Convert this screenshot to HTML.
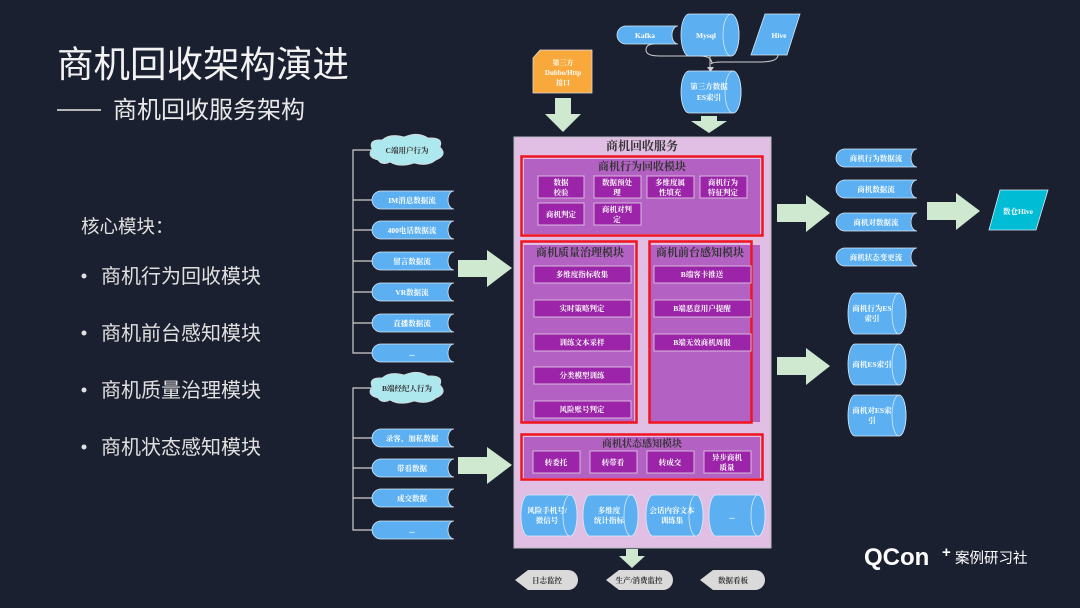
<!DOCTYPE html>
<html><head><meta charset="utf-8">
<style>
html,body{margin:0;padding:0;background:#1b2030;}
svg{display:block}
.s{font-family:"Liberation Serif","Noto Serif CJK SC",serif;font-weight:bold;}
.h{font-family:"Liberation Sans","Noto Sans CJK SC",sans-serif;}
</style></head>
<body>
<svg width="1080" height="608" viewBox="0 0 1080 608" xmlns="http://www.w3.org/2000/svg">
<rect width="1080" height="608" fill="#1b2030"/>

<!-- Titles -->
<text x="57" y="77" class="h" font-size="36.5" fill="#f2f2f2">商机回收架构演进</text>
<line x1="57" y1="110" x2="101" y2="110" stroke="#e8e8e8" stroke-width="1.5"/>
<text x="113" y="118" class="h" font-size="24" fill="#e8e8e8">商机回收服务架构</text>

<text x="81" y="233" class="h" font-size="18.5" fill="#e0e0e0">核心模块：</text>
<g class="h" font-size="20" fill="#e0e0e0">
<circle cx="84" cy="276" r="2.5"/><text x="101" y="283">商机行为回收模块</text>
<circle cx="84" cy="333" r="2.5"/><text x="101" y="340">商机前台感知模块</text>
<circle cx="84" cy="390" r="2.5"/><text x="101" y="397">商机质量治理模块</text>
<circle cx="84" cy="447" r="2.5"/><text x="101" y="454">商机状态感知模块</text>
</g>

<!-- Left tree lines -->
<g stroke="#cfcfcf" stroke-width="1.2" fill="none">
<path d="M372 150 H353 V353 H372"/>
<path d="M353 200 H372 M353 230 H372 M353 261 H372 M353 292 H372 M353 323 H372"/>
<path d="M372 388 H353 V530 H372"/>
<path d="M353 438 H372 M353 468 H372 M353 498 H372"/>
</g>
<!-- clouds -->
<g fill="#aee8ef" stroke="#d8d8d8" stroke-width="0.8">
<path d="M378 160 Q366 157 372 149 Q368 139 382 140 Q390 133 404 137 Q418 131 428 138 Q444 137 440 147 Q448 155 436 160 Q428 167 414 163 Q400 168 390 162 Q382 166 378 160Z"/>
<path d="M378 398 Q366 395 372 387 Q368 377 382 378 Q390 371 404 375 Q418 369 428 376 Q444 375 440 385 Q448 393 436 398 Q428 405 414 401 Q400 406 390 400 Q382 404 378 398Z"/>
</g>
<g class="s" font-size="7.5" fill="#333" text-anchor="middle">
<text x="407" y="153">C端用户行为</text>
<text x="407" y="391">B端经纪人行为</text>
</g>

<!-- tags left -->
<g fill="#5cb0f2" stroke="#d8e8f5" stroke-width="0.8">
<path d="M381 191 H454 A6 9 0 0 0 454 209 H381 A9 9 0 0 1 381 191Z"/>
<path d="M381 221 H454 A6 9 0 0 0 454 239 H381 A9 9 0 0 1 381 221Z"/>
<path d="M381 252 H454 A6 9 0 0 0 454 270 H381 A9 9 0 0 1 381 252Z"/>
<path d="M381 283 H454 A6 9 0 0 0 454 301 H381 A9 9 0 0 1 381 283Z"/>
<path d="M381 314 H454 A6 9 0 0 0 454 332 H381 A9 9 0 0 1 381 314Z"/>
<path d="M381 344 H454 A6 9 0 0 0 454 362 H381 A9 9 0 0 1 381 344Z"/>
<path d="M381 429 H454 A6 9 0 0 0 454 447 H381 A9 9 0 0 1 381 429Z"/>
<path d="M381 459 H454 A6 9 0 0 0 454 477 H381 A9 9 0 0 1 381 459Z"/>
<path d="M381 489 H454 A6 9 0 0 0 454 507 H381 A9 9 0 0 1 381 489Z"/>
<path d="M381 521 H454 A6 9 0 0 0 454 539 H381 A9 9 0 0 1 381 521Z"/>
</g>
<g class="s" font-size="7.5" fill="#fff" text-anchor="middle">
<text x="412" y="203">IM消息数据流</text>
<text x="412" y="233">400电话数据流</text>
<text x="412" y="264">留言数据流</text>
<text x="412" y="295">VR数据流</text>
<text x="412" y="326">直播数据流</text>
<text x="412" y="356">...</text>
<text x="412" y="441">录客、加私数据</text>
<text x="412" y="471">带看数据</text>
<text x="412" y="501">成交数据</text>
<text x="412" y="533">...</text>
</g>

<!-- big green arrows -->
<g fill="#cfe8d0">
<polygon points="458,260 487,260 487,250 512,268 487,287 487,277 458,277"/>
<polygon points="458,457 487,457 487,447 512,465 487,484 487,474 458,474"/>
<polygon points="777,204 806,204 806,195 830,213 806,232 806,222 777,222"/>
<polygon points="927,202 956,202 956,193 980,211 956,230 956,220 927,220"/>
<polygon points="777,357 806,357 806,348 830,366 806,385 806,375 777,375"/>
<polygon points="555,98 571,98 571,114 581,114 563,132 545,114 555,114"/>
<polygon points="701,116 717,116 717,121 727,121 709,133 691,121 701,121"/>
<polygon points="626,549 638,549 638,556 645,556 632,568 619,556 626,556"/>
</g>

<!-- top sources -->
<path d="M540 50 H592 V93 H533 V58Z" fill="#f9a83c" stroke="#ddd" stroke-width="0.8"/>
<g class="s" font-size="7" fill="#fff" text-anchor="middle">
<text x="563" y="65">第三方</text><text x="563" y="75">Dubbo/Http</text><text x="563" y="85">接口</text>
</g>
<path d="M654 44 Q646 44 646 50 Q646 56 660 56 L700 56 Q712 56 712 64 M778 55 Q778 62 760 62 L722 62 Q712 62 711 64 M710 56 V68" stroke="#cfcfcf" stroke-width="1" fill="none"/>
<polygon points="707,67 714,67 710.5,72" fill="#cfcfcf"/>
<path d="M626 26 H678 A6 9 0 0 0 678 44 H626 A9 9 0 0 1 626 26Z" fill="#5cb0f2" stroke="#d8e8f5" stroke-width="0.8"/>
<path d="M689 14 H731 A8 21 0 0 1 731 56 H689 A8 21 0 0 1 689 14Z" fill="#5cb0f2" stroke="#d8e8f5" stroke-width="0.8"/>
<ellipse cx="731" cy="35" rx="8" ry="21" fill="#5cb0f2" stroke="#d8e8f5" stroke-width="0.8"/>
<polygon points="765,14 800,14 787,55 751,55" fill="#5cb0f2" stroke="#d8e8f5" stroke-width="0.8"/>
<path d="M689 71 H733 A8 21 0 0 1 733 113 H689 A8 21 0 0 1 689 71Z" fill="#5cb0f2" stroke="#d8e8f5" stroke-width="0.8"/>
<ellipse cx="733" cy="92" rx="8" ry="21" fill="#5cb0f2" stroke="#d8e8f5" stroke-width="0.8"/>
<g class="s" font-size="7.5" fill="#fff" text-anchor="middle">
<text x="645" y="38">Kafka</text><text x="706" y="38">Mysql</text><text x="779" y="38">Hive</text>
<text x="709" y="89">第三方数据</text><text x="709" y="100">ES索引</text>
</g>

<!-- main box -->
<rect x="514" y="137" width="257" height="411" fill="#e1bfe5" stroke="#b9b9c4" stroke-width="1"/>
<text x="642" y="150" class="s" font-size="12" fill="#333" text-anchor="middle" font-weight="normal">商机回收服务</text>

<!-- module 1 -->
<rect x="524" y="159" width="236" height="75" fill="#b362c3"/>
<rect x="521.5" y="156.5" width="241" height="79" fill="none" stroke="#f0141e" stroke-width="2.5"/>
<text x="642" y="170" class="s" font-size="11" fill="#333" text-anchor="middle" font-weight="normal">商机行为回收模块</text>
<g fill="#9b24a8" stroke="#d8b8dd" stroke-width="1">
<rect x="538" y="176" width="46" height="22"/><rect x="594" y="176" width="47" height="22"/>
<rect x="647" y="176" width="47" height="22"/><rect x="700" y="176" width="47" height="22"/>
<rect x="538" y="203" width="46" height="22"/><rect x="594" y="203" width="47" height="22"/>
</g>
<g class="s" font-size="7.5" fill="#fff" text-anchor="middle">
<text x="561" y="185">数据</text><text x="561" y="195">校验</text>
<text x="617" y="185">数据预处</text><text x="617" y="195">理</text>
<text x="670" y="185">多维度属</text><text x="670" y="195">性填充</text>
<text x="723" y="185">商机行为</text><text x="723" y="195">特征判定</text>
<text x="561" y="217">商机判定</text>
<text x="617" y="212">商机对判</text><text x="617" y="222">定</text>
</g>

<!-- module 2 -->
<rect x="524" y="245" width="110" height="177" fill="#b362c3"/>
<rect x="521.5" y="241.5" width="115" height="181" fill="none" stroke="#f0141e" stroke-width="2.5"/>
<text x="580" y="256" class="s" font-size="11" fill="#333" text-anchor="middle" font-weight="normal">商机质量治理模块</text>
<g fill="#9b24a8" stroke="#d8b8dd" stroke-width="1">
<rect x="534" y="266" width="97" height="17"/><rect x="534" y="300" width="97" height="17"/>
<rect x="534" y="334" width="97" height="17"/><rect x="534" y="367" width="97" height="17"/>
<rect x="534" y="401" width="97" height="17"/>
</g>
<g class="s" font-size="7.5" fill="#fff" text-anchor="middle">
<text x="582" y="277">多维度指标收集</text><text x="582" y="311">实时策略判定</text>
<text x="582" y="345">训练文本采样</text><text x="582" y="378">分类模型训练</text>
<text x="582" y="412">风险账号判定</text>
</g>

<!-- module 3 -->
<rect x="650" y="245" width="110" height="177" fill="#b362c3"/>
<rect x="649.5" y="241.5" width="102" height="181" fill="none" stroke="#f0141e" stroke-width="2.5"/>
<text x="700" y="256" class="s" font-size="11" fill="#333" text-anchor="middle" font-weight="normal">商机前台感知模块</text>
<g fill="#9b24a8" stroke="#d8b8dd" stroke-width="1">
<rect x="654" y="266" width="97" height="17"/><rect x="654" y="300" width="97" height="17"/>
<rect x="654" y="334" width="97" height="17"/>
</g>
<g class="s" font-size="7.5" fill="#fff" text-anchor="middle">
<text x="702" y="277">B端客卡推送</text><text x="702" y="311">B端恶意用户提醒</text>
<text x="702" y="345">B端无效商机周报</text>
</g>

<!-- module 4 -->
<rect x="524" y="437" width="236" height="41" fill="#b362c3"/>
<rect x="521.5" y="434.5" width="241" height="45" fill="none" stroke="#f0141e" stroke-width="2.5"/>
<text x="642" y="447" class="s" font-size="10" fill="#333" text-anchor="middle" font-weight="normal">商机状态感知模块</text>
<g fill="#9b24a8" stroke="#d8b8dd" stroke-width="1">
<rect x="533" y="451" width="47" height="22"/><rect x="590" y="451" width="47" height="22"/>
<rect x="647" y="451" width="47" height="22"/><rect x="704" y="451" width="47" height="22"/>
</g>
<g class="s" font-size="7.5" fill="#fff" text-anchor="middle">
<text x="556" y="465">转委托</text><text x="613" y="465">转带看</text><text x="670" y="465">转成交</text>
<text x="727" y="460">异步商机</text><text x="727" y="470">质量</text>
</g>

<!-- cylinders row -->
<g fill="#5cb0f2" stroke="#d8e8f5" stroke-width="0.8">
<path d="M528 495 H570 A7 20.5 0 0 1 570 536 H528 A7 20.5 0 0 1 528 495Z"/><ellipse cx="570" cy="515.5" rx="7" ry="20.5"/>
<path d="M590 495 H631 A7 20.5 0 0 1 631 536 H590 A7 20.5 0 0 1 590 495Z"/><ellipse cx="631" cy="515.5" rx="7" ry="20.5"/>
<path d="M653 495 H696 A7 20.5 0 0 1 696 536 H653 A7 20.5 0 0 1 653 495Z"/><ellipse cx="696" cy="515.5" rx="7" ry="20.5"/>
<path d="M716 495 H758 A7 20.5 0 0 1 758 536 H716 A7 20.5 0 0 1 716 495Z"/><ellipse cx="758" cy="515.5" rx="7" ry="20.5"/>
</g>
<g class="s" font-size="7.5" fill="#fff" text-anchor="middle" font-weight="normal">
<text x="547" y="513">风险手机号/</text><text x="547" y="523">微信号</text>
<text x="609" y="513">多维度</text><text x="609" y="523">统计指标</text>
<text x="672" y="513">会话内容文本</text><text x="672" y="523">训练集</text>
<text x="732" y="519">...</text>
</g>

<!-- bottom gray tags -->
<g fill="#dadada">
<path d="M515 580 L528 570 H568 A10 10 0 0 1 568 590 H528Z"/>
<path d="M606 580 L619 570 H663 A10 10 0 0 1 663 590 H619Z"/>
<path d="M700 580 L713 570 H755 A10 10 0 0 1 755 590 H713Z"/>
</g>
<g class="s" font-size="7.5" fill="#333" text-anchor="middle" font-weight="normal">
<text x="547" y="583">日志监控</text><text x="639" y="583">生产/消费监控</text><text x="733" y="583">数据看板</text>
</g>

<!-- right side tags -->
<g fill="#5cb0f2" stroke="#d8e8f5" stroke-width="0.8">
<path d="M845 149 H917 A6 9 0 0 0 917 167 H845 A9 9 0 0 1 845 149Z"/>
<path d="M845 180 H917 A6 9 0 0 0 917 198 H845 A9 9 0 0 1 845 180Z"/>
<path d="M845 213 H917 A6 9 0 0 0 917 231 H845 A9 9 0 0 1 845 213Z"/>
<path d="M845 248 H917 A6 9 0 0 0 917 266 H845 A9 9 0 0 1 845 248Z"/>
</g>
<g class="s" font-size="7.5" fill="#fff" text-anchor="middle">
<text x="876" y="161">商机行为数据流</text><text x="876" y="192">商机数据流</text>
<text x="876" y="225">商机对数据流</text><text x="876" y="260">商机状态变更流</text>
</g>
<polygon points="1000,190 1048,190 1036,230 989,230" fill="#00bcd4" stroke="#d8e8f5" stroke-width="0.8"/>
<text x="1018" y="214" class="s" font-size="7.5" fill="#fff" text-anchor="middle">数仓Hive</text>

<g fill="#5cb0f2" stroke="#d8e8f5" stroke-width="0.8">
<path d="M855 293 H899 A7 20.5 0 0 1 899 334 H855 A7 20.5 0 0 1 855 293Z"/><ellipse cx="899" cy="313.5" rx="7" ry="20.5"/>
<path d="M855 344 H899 A7 20.5 0 0 1 899 385 H855 A7 20.5 0 0 1 855 344Z"/><ellipse cx="899" cy="364.5" rx="7" ry="20.5"/>
<path d="M855 395 H899 A7 20.5 0 0 1 899 436 H855 A7 20.5 0 0 1 855 395Z"/><ellipse cx="899" cy="415.5" rx="7" ry="20.5"/>
</g>
<g class="s" font-size="7.5" fill="#fff" text-anchor="middle" font-weight="normal">
<text x="872" y="311">商机行为ES</text><text x="872" y="321">索引</text>
<text x="872" y="367">商机ES索引</text>
<text x="872" y="413">商机对ES索</text><text x="872" y="423">引</text>
</g>

<!-- logo -->
<text x="864" y="565" class="h" font-size="24" font-weight="bold" fill="#ffffff">QCon</text>
<text x="942" y="557" class="h" font-size="15" font-weight="bold" fill="#ffffff">+</text>
<text x="955" y="563" class="h" font-size="14.5" fill="#ffffff">案例研习社</text>
</svg>
</body></html>
